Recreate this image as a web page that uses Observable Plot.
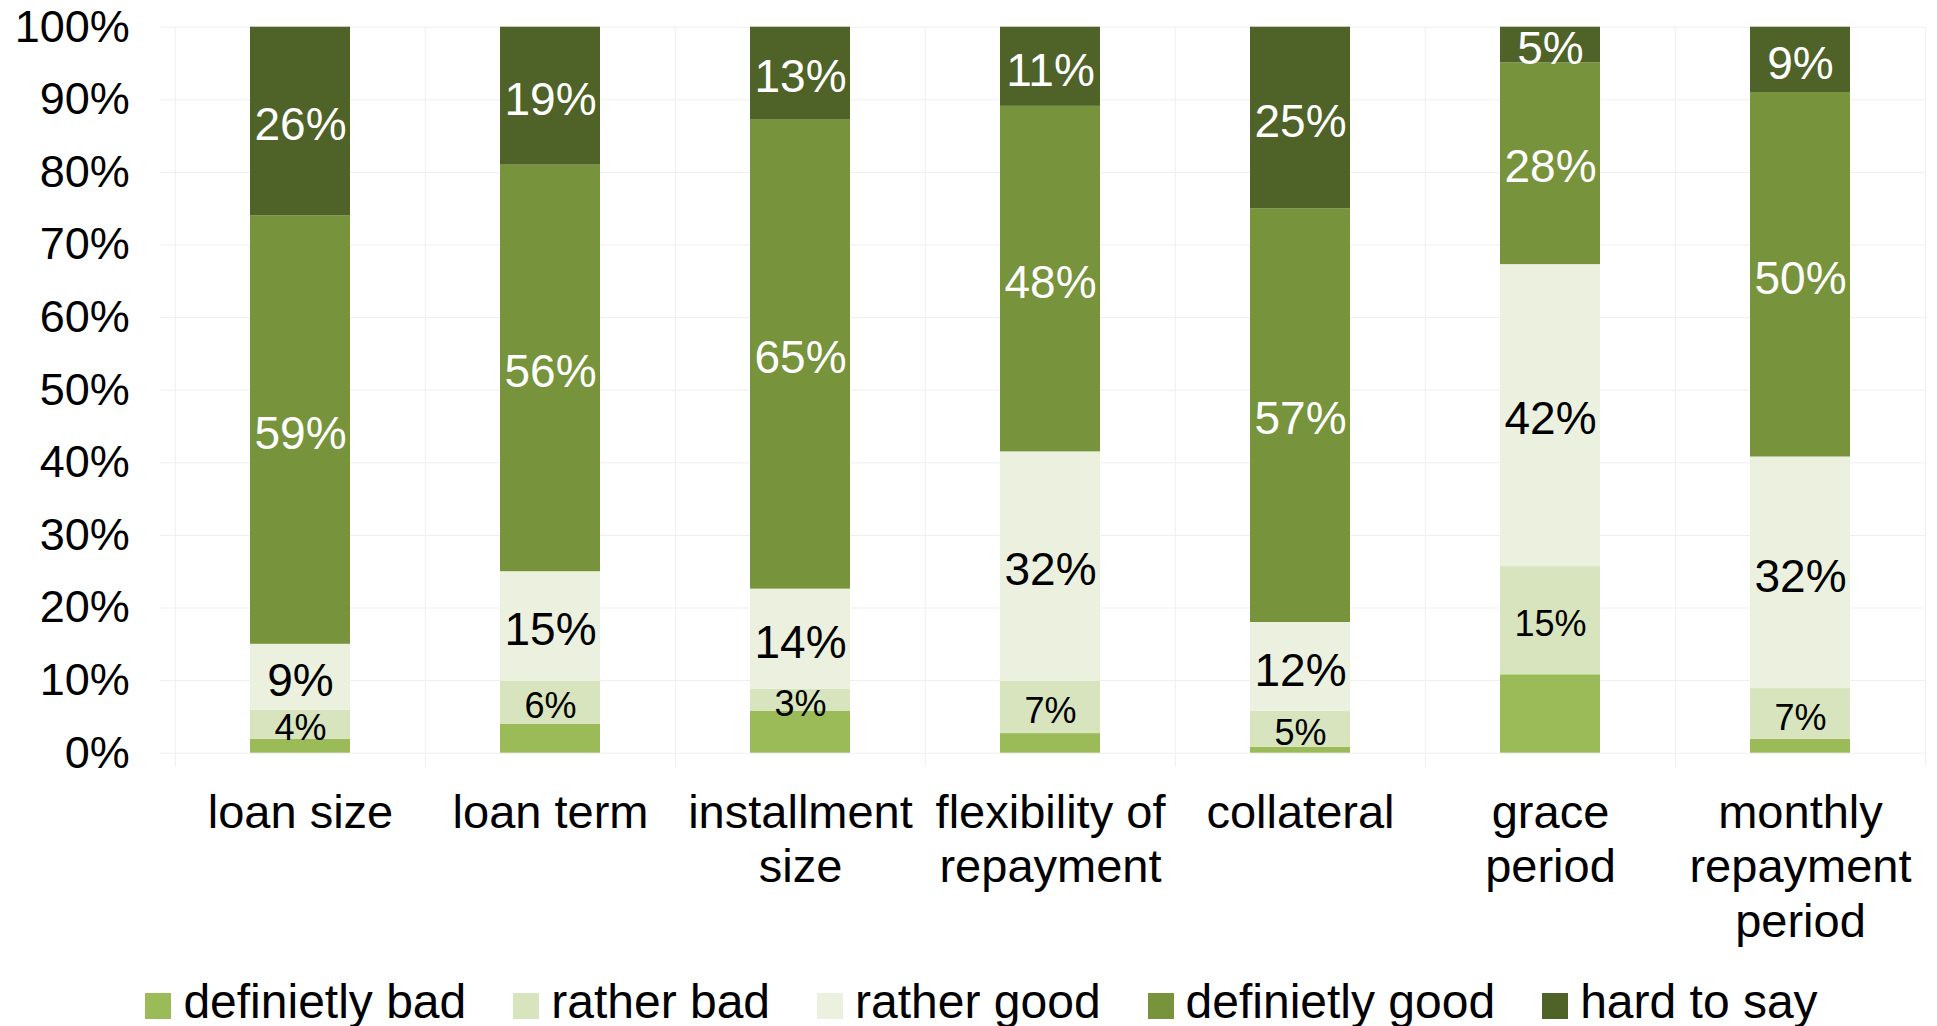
<!DOCTYPE html>
<html>
<head>
<meta charset="utf-8">
<script src="https://cdn.jsdelivr.net/npm/d3@7"></script>
<script src="https://cdn.jsdelivr.net/npm/@observablehq/plot@0.6"></script>
<style>
  html, body { margin: 0; padding: 0; background: #fff; }
  #chart svg { display: block; }
  .legend {
    display: flex; justify-content: center; gap: 47px;
    font-family: 'Liberation Sans', Arial, sans-serif; font-size: 48px; line-height: 1;
    margin-top: 18px; padding-left: 26px; color: #000;
  }
  .legend .sw { display: inline-block; width: 26px; height: 26px; margin-right: 12px; vertical-align: -1px; }
</style>
</head>
<body>
<div id="chart"></div>
<script>
const categories = ["loan size", "loan term", "installment size", "flexibility of repayment", "collateral", "grace period", "monthly repayment period"];
const tickLabels = ["loan size", "loan term", "installment\nsize", "flexibility of\nrepayment", "collateral", "grace\nperiod", "monthly\nrepayment\nperiod"];
const seriesNames = ["definietly bad", "rather bad", "rather good", "definietly good", "hard to say"];
const seriesColors = ["#9BBB59", "#D7E4BD", "#EBF1DE", "#77933C", "#4F6228"];

const definitelyBad  = [1.9, 4.0, 5.8, 2.7, 0.8, 10.8, 1.9];
const ratherBad      = [4.0, 5.9, 3.0, 7.2, 5.0, 14.9, 7.0];
const ratherGood     = [9.1, 15.1, 13.8, 31.6, 12.2, 41.6, 31.9];
const definitelyGood = [59.0, 56.0, 64.6, 47.6, 57.0, 27.8, 50.2];
const hardToSay      = [26.0, 19.0, 12.8, 10.9, 25.0, 4.9, 9.0];

const yTicks = [0, 10, 20, 30, 40, 50, 60, 70, 80, 90, 100];

const seriesValues = [definitelyBad, ratherBad, ratherGood, definitelyGood, hardToSay];
const data = [];
categories.forEach((c, i) => {
  seriesNames.forEach((s, j) => {
    data.push({category: c, series: s, value: seriesValues[j][i]});
  });
});
const lbl = d => Math.round(d.value) + "%";

const grid = "#EFEFEF";
const half = 125.2;

const chart = Plot.plot({
  width: 1937,
  height: 960,
  marginLeft: 173.3,
  marginRight: 11,
  marginTop: 26.7,
  marginBottom: 207.3,
  style: {fontFamily: "'Liberation Sans', Arial, sans-serif", background: "white", color: "black"},
  x: {domain: categories, paddingInner: 0.6, paddingOuter: 0.3, axis: null},
  y: {domain: [0, 100], axis: null},
  color: {domain: seriesNames, range: seriesColors},
  marks: [
    Plot.gridY(yTicks, {stroke: grid, strokeOpacity: 1}),
    Plot.ruleX(categories, {x: d => d, dx: -half, stroke: grid, strokeOpacity: 1, insetBottom: -14}),
    Plot.ruleX([categories[categories.length - 1]], {x: d => d, dx: half, stroke: grid, strokeOpacity: 1, insetBottom: -14}),
    Plot.axisY({ticks: yTicks, tickFormat: d => d + "%", tickSize: 14, tickPadding: 30, stroke: grid, strokeOpacity: 1, fill: "black", fontSize: 45, label: null}),
    Plot.axisX({tickFormat: d => tickLabels[categories.indexOf(d)], tickSize: 0, tickPadding: 36, fontSize: 47, lineHeight: 1.157, fill: "black", label: null}),
    Plot.barY(data, {x: "category", y: "value", fill: "series"}),
    Plot.text(data, Plot.stackY({x: "category", y: "value", text: d => d.series === "rather bad" ? lbl(d) : "", fill: "black", fontSize: 36, dy: 4})),
    Plot.text(data, Plot.stackY({x: "category", y: "value", text: d => d.series === "rather good" ? lbl(d) : "", fill: "black", fontSize: 46, dy: 4})),
    Plot.text(data, Plot.stackY({x: "category", y: "value", text: d => (d.series === "definietly good" || d.series === "hard to say") ? lbl(d) : "", fill: "white", fontSize: 46, dy: 4}))
  ]
});
document.getElementById("chart").appendChild(chart);

const legend = document.createElement("div");
legend.className = "legend";
seriesNames.forEach((s, i) => {
  const item = document.createElement("span");
  const sw = document.createElement("span");
  sw.className = "sw";
  sw.style.background = seriesColors[i];
  item.appendChild(sw);
  item.appendChild(document.createTextNode(s));
  legend.appendChild(item);
});
document.getElementById("chart").appendChild(legend);
</script>
</body>
</html>
